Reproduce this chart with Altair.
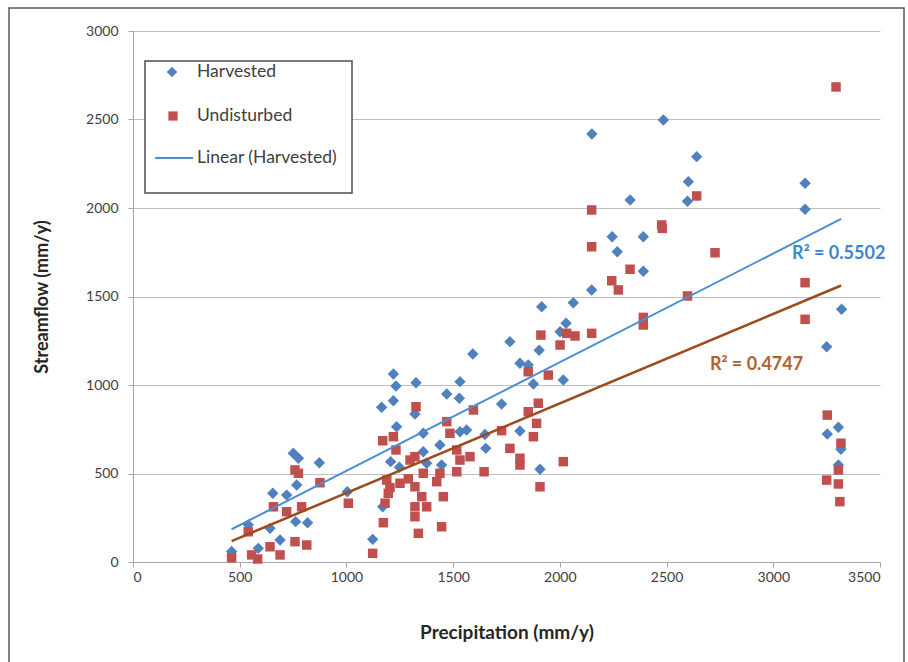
import altair as alt
import pandas as pd

# ---------------- data ----------------
harvested_precip = [462, 540, 587, 642, 655, 689, 720, 751, 775, 767, 762, 818, 873, 1004,
                    1123, 1165, 1220, 1232, 1326, 1532, 1220, 1470, 1529, 1321, 1235, 1360,
                    1563, 1532, 1649, 1438, 1360, 1207, 1248, 1376, 1446, 1653, 1170, 1813,
                    1852, 1876, 2016, 1727, 1813, 1907, 2329, 2598, 2245, 2391, 2269, 2391,
                    2149, 2063, 1915, 2029, 2001, 1903, 1766, 1592, 2485, 2641, 2602, 3149,
                    3149, 3320, 3250, 2150, 3305, 3253, 3317, 3305]
harvested_flow = [60, 210, 77, 190, 388, 124, 378, 614, 586, 435, 228, 222, 561, 397,
                  128, 874, 1062, 994, 1013, 1019, 911, 949, 925, 836, 764, 727,
                  746, 736, 720, 661, 623, 567, 535, 558, 548, 642, 312, 1123,
                  1113, 1006, 1028, 893, 740, 524, 2045, 2038, 1838, 1838, 1753, 1643,
                  1537, 1465, 1442, 1349, 1301, 1196, 1245, 1175, 2497, 2290, 2149, 2140,
                  1993, 1428, 1216, 2418, 761, 723, 637, 548]

undisturbed_precip = [462, 540, 556, 584, 642, 658, 689, 720, 759, 775, 790, 759, 814, 876,
                      1009, 1123, 1170, 1326, 1595, 1470, 1220, 1232, 1321, 1485, 1517, 1579,
                      1532, 1645, 1517, 1438, 1360, 1189, 1251, 1321, 1423, 1196, 1353, 1454,
                      1181, 1321, 1376, 1321, 1173, 1337, 1446, 1852, 1946, 1899, 1852, 1891,
                      1876, 1727, 1766, 1813, 1813, 2016, 1907, 2149, 2477, 2480, 2149, 2329,
                      2243, 2274, 2598, 2391, 2391, 1911, 2032, 2071, 2149, 2001, 2641, 2727,
                      3149, 3149, 3294, 3253, 3317, 3305, 3250, 3305, 3312, 1298, 1204, 1290]
undisturbed_flow = [24, 171, 40, 17, 86, 312, 40, 284, 520, 501, 312, 115, 96, 448,
                    332, 49, 685, 877, 859, 793, 708, 633, 595, 727, 633, 595,
                    576, 510, 510, 501, 501, 463, 445, 425, 454, 388, 369, 369,
                    332, 312, 312, 256, 222, 162, 199, 1075, 1056, 897, 849, 783,
                    708, 742, 642, 586, 548, 567, 425, 1989, 1904, 1885, 1781, 1654,
                    1589, 1537, 1503, 1382, 1339, 1282, 1292, 1277, 1292, 1226, 2068, 1747,
                    1578, 1371, 2684, 830, 671, 520, 463, 441, 341, 576, 420, 470]

series_names = ["Harvested", "Undisturbed"]

# linear trendlines (end points)
trend_precip = [462, 3318]
trend_harvested = [185, 1938]
trend_undisturbed = [118, 1562]

# R² annotations
r2_labels = ["R² = 0.5502", "R² = 0.4747"]
r2_precip = [3088, 2703]
r2_flow = [1740, 1113]

x_ticks = [0, 500, 1000, 1500, 2000, 2500, 3000, 3500]
y_ticks = [0, 500, 1000, 1500, 2000, 2500, 3000]
legend_labels = ["Harvested", "Undisturbed", "Linear (Harvested)"]

x_title = "Precipitation (mm/y)"
y_title = "Streamflow (mm/y)"

# ---------------- styling ----------------
BLUE = "#4F81BD"
RED = "#C0504D"
BLUE_LINE = "#4A8FD6"
BROWN_LINE = "#9E4A1C"
BLUE_TEXT = "#3F86C8"
BROWN_TEXT = "#B0612E"
FONT = "Lato"

W, H = 747, 531

harv_df = pd.DataFrame({"precip": harvested_precip, "flow": harvested_flow,
                        "series": series_names[0]})
und_df = pd.DataFrame({"precip": undisturbed_precip, "flow": undisturbed_flow,
                       "series": series_names[1]})
trend_h_df = pd.DataFrame({"precip": trend_precip, "flow": trend_harvested})
trend_u_df = pd.DataFrame({"precip": trend_precip, "flow": trend_undisturbed})
r2_df = pd.DataFrame({"precip": r2_precip, "flow": r2_flow, "label": r2_labels})

x_scale = alt.Scale(domain=[0, 3500], nice=False, zero=False)
y_scale = alt.Scale(domain=[0, 3000], nice=False, zero=False)

x_enc = alt.X("precip:Q", scale=x_scale, axis=alt.Axis(
    values=x_ticks, format="d", grid=False, title=x_title,
    domainColor="#A6A6A6", tickColor="#A6A6A6", tickSize=5,
    labelFont=FONT, labelFontSize=14, labelColor="#404040", labelPadding=3,
    titleFont=FONT, titleFontSize=19, titleFontWeight="bold", titleColor="#262626",
    titleY=70, titleBaseline="middle"))
y_enc = alt.Y("flow:Q", scale=y_scale, axis=alt.Axis(
    values=y_ticks, format="d", grid=True, gridColor="#BFBFBF", gridWidth=1, title=y_title,
    domainColor="#A6A6A6", tickColor="#A6A6A6", tickSize=5,
    labelFont=FONT, labelFontSize=14, labelColor="#404040", labelPadding=10,
    titleFont=FONT, titleFontSize=18, titleFontWeight="bold", titleColor="#262626",
    titleX=-91, titleY=H / 2, titleBaseline="middle", titleAngle=270))

xs = alt.X("precip:Q", scale=x_scale)
ys = alt.Y("flow:Q", scale=y_scale)

# outer frame
frame = alt.Chart(pd.DataFrame({"k": [0]})).mark_rect(
    fill="transparent", stroke="#5A5A5A", strokeWidth=1.5).encode(
    x=alt.value(-124), x2=alt.value(771), y=alt.value(-23), y2=alt.value(640))

harv = alt.Chart(harv_df).mark_point(
    shape="diamond", filled=True, size=130, color=BLUE, opacity=1).encode(
    x=x_enc, y=y_enc)
und = alt.Chart(und_df).mark_point(
    shape="square", filled=True, size=90, color=RED, opacity=1).encode(x=xs, y=ys)

line_h = alt.Chart(trend_h_df).mark_line(color=BLUE_LINE, strokeWidth=2).encode(x=xs, y=ys)
line_u = alt.Chart(trend_u_df).mark_line(color=BROWN_LINE, strokeWidth=2.5).encode(x=xs, y=ys)

r2_h = alt.Chart(r2_df.iloc[[0]]).mark_text(
    align="left", baseline="middle", font=FONT, fontSize=18, fontWeight="bold",
    color=BLUE_TEXT).encode(x=xs, y=ys, text="label:N")
r2_u = alt.Chart(r2_df.iloc[[1]]).mark_text(
    align="left", baseline="middle", font=FONT, fontSize=18, fontWeight="bold",
    color=BROWN_TEXT).encode(x=xs, y=ys, text="label:N")

# legend (drawn inside the plot, like the spreadsheet legend)
one = pd.DataFrame({"k": [0]})
leg_box = alt.Chart(one).mark_rect(fill="white", stroke="#4D4D4D", strokeWidth=1.5).encode(
    x=alt.value(12), x2=alt.value(219), y=alt.value(30), y2=alt.value(162))
leg_sym1 = alt.Chart(one).mark_point(shape="diamond", filled=True, size=110,
                                     color=BLUE, opacity=1).encode(
    x=alt.value(39), y=alt.value(41))
leg_sym2 = alt.Chart(one).mark_point(shape="square", filled=True, size=85,
                                     color=RED, opacity=1).encode(
    x=alt.value(40), y=alt.value(85))
leg_sym3 = alt.Chart(one).mark_rule(color=BLUE_LINE, strokeWidth=2).encode(
    x=alt.value(22), x2=alt.value(60), y=alt.value(127))


def leg_text(i, ypix):
    return alt.Chart(pd.DataFrame({"label": [legend_labels[i]]})).mark_text(
        align="left", baseline="middle", font=FONT, fontSize=17.5, color="#404040").encode(
        x=alt.value(64), y=alt.value(ypix), text="label:N")


chart = alt.layer(
    frame, harv, und, line_h, line_u, r2_h, r2_u,
    leg_box, leg_sym1, leg_sym2, leg_sym3,
    leg_text(0, 41), leg_text(1, 85), leg_text(2, 127),
).properties(
    width=W, height=H,
    padding={"left": 133, "top": 31, "right": 28, "bottom": 100},
    autosize=alt.AutoSizeParams(type="none"),
    background="white",
).configure_view(stroke=None)

chart.save("out.html", embed_options={"renderer": "svg", "actions": False})
